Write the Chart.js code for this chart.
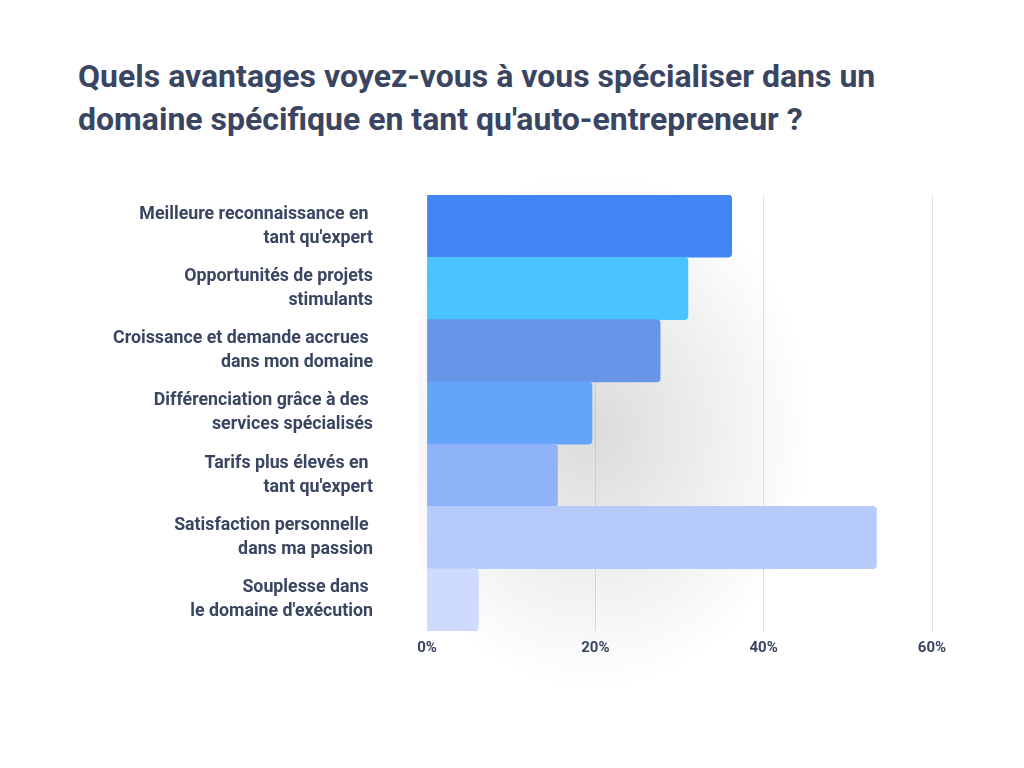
<!DOCTYPE html>
<html>
<head>
<meta charset="utf-8">
<script src="https://cdn.jsdelivr.net/npm/chart.js@4"></script>
<style>
    body { margin: 0; width: 1024px; height: 768px; background: #fff; position: relative; overflow: hidden; font-family: Roboto, sans-serif; }
    #glow { position: absolute; left: 418px; top: 140px; width: 460px; height: 560px;
        background: radial-gradient(ellipse 220px 260px at 175px 290px, rgba(0,0,0,0.14) 0%, rgba(0,0,0,0.07) 50%, rgba(0,0,0,0) 100%); }
    h1 { position: absolute; left: 78px; top: 55px; margin: 0; font-size: 32px; line-height: 43px; font-weight: 700; color: #3a4562; white-space: nowrap; }
    #wrap { position: absolute; left: 0; top: 0; width: 1024px; height: 768px; }
</style>
</head>
<body>
<div id="glow"></div>
<h1>Quels avantages voyez-vous à vous spécialiser dans un<br>domaine spécifique en tant qu'auto-entrepreneur ?</h1>
<div id="wrap"><canvas id="chart"></canvas></div>
<script>
var categories = [
    ["Meilleure reconnaissance en ", "tant qu'expert"],
    ["Opportunités de projets", "stimulants"],
    ["Croissance et demande accrues ", "dans mon domaine"],
    ["Différenciation grâce à des ", "services spécialisés"],
    ["Tarifs plus élevés en ", "tant qu'expert"],
    ["Satisfaction personnelle ", "dans ma passion"],
    ["Souplesse dans ", "le domaine d'exécution"]
]
var values = [36.2, 31.0, 27.7, 19.6, 15.5, 53.4, 6.1]
var tickValues = [0, 20, 40, 60]
var barColors = ['#4385f5', '#49c4fe', '#6795e8', '#64a5fa', '#8eb3f8', '#b7cafc', '#cedbfe']

var textColor = '#3a4562'

function drawChart() {
    var ctx = document.getElementById('chart').getContext('2d');
    var myChart = new Chart(ctx, {
        type: 'bar',
        data: {
            labels: categories,
            datasets: [{
                data: values,
                backgroundColor: barColors,
                borderRadius: 4,
                borderSkipped: 'start',
                categoryPercentage: 1,
                barPercentage: 1
            }]
        },
        options: {
            indexAxis: 'y',
            responsive: false,
            animation: false,
            layout: { padding: { top: 195, right: 92, bottom: 107, left: 0 } },
            plugins: { legend: { display: false }, tooltip: { enabled: false } },
            scales: {
                x: {
                    min: tickValues[0],
                    max: tickValues[tickValues.length - 1],
                    afterBuildTicks: function (s) { s.ticks = tickValues.map(function (v) { return { value: v } }) },
                    afterFit: function (s) { s.height = 30 },
                    grid: { color: 'rgba(150, 155, 170, 0.3)', drawTicks: false },
                    border: { display: false },
                    ticks: {
                        padding: 8,
                        color: textColor,
                        font: { family: 'Roboto', size: 15, weight: 'bold' },
                        callback: function (v) { return v + '%' }
                    }
                },
                y: {
                    afterFit: function (s) { s.width = 427 },
                    grid: { display: false, drawTicks: false },
                    border: { display: false },
                    ticks: {
                        padding: 54,
                        color: textColor,
                        font: { family: 'Roboto', size: 17.8, weight: 'bold', lineHeight: 1.35 }
                    }
                }
            }
        }
    });
}

var c = document.getElementById('chart')
c.width = 1024
c.height = 768
drawChart()
</script>
</body>
</html>
